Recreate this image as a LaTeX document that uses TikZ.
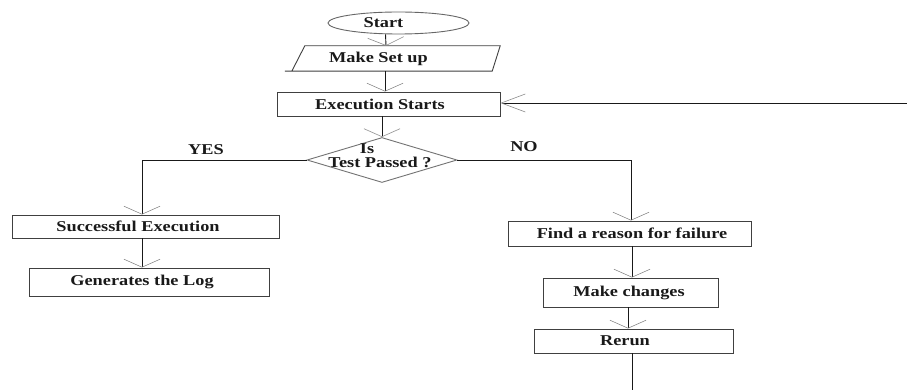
\documentclass[tikz,border=0pt]{standalone}
\usepackage{fontspec}
\setmainfont{Liberation Serif}[FakeStretch=1.22]
\usetikzlibrary{arrows.meta,shapes.geometric,calc}
\begin{document}
\begin{tikzpicture}[x=1pt,y=-1pt,
  box/.style={draw=black!75, line width=0.9pt, inner sep=0pt},
  lbl/.style={font=\bfseries\fontsize{15}{18}\selectfont, text=black!90, inner sep=0pt},
  link/.style={draw=black!90, line width=0.9pt},
  arr/.style={link, -{Straight Barb[length=8pt,width=36pt,color=black!45,line width=0.6pt]}},
  harr/.style={link, -{Straight Barb[length=24pt,width=18pt,color=black!45,line width=0.6pt]}}
]
\useasboundingbox[fill=white] (0,0) rectangle (907,390);

% nodes
\node[box, draw=black!60, ellipse, minimum width=141pt, minimum height=22pt,
      label={[lbl,xshift=-15pt]center:Start}] (start) at (398.5,23) {};
\node[inner sep=0pt, minimum width=215pt, minimum height=25pt,
      label={[lbl,xshift=-14pt]center:Make Set up}] (setup) at (392.5,58.5) {};
\draw[box] ($(setup.south west)$) -- ($(setup.south east)+(-8,0)$)
   -- (setup.north east) -- ($(setup.north west)+(20,0)$) -- ($(setup.south west)+(7,0)$);
\node[box, minimum width=223pt, minimum height=24pt,
      label={[lbl,xshift=-8.5pt]center:Execution Starts}] (exec) at (388.5,104) {};
\node[box, draw=black!55, diamond, minimum width=150pt, minimum height=45pt,
      label={[lbl,xshift=-15pt,yshift=11pt]center:Is},
      label={[lbl,xshift=-2pt,yshift=-2pt]center:Test Passed ?}] (dia) at (382,160) {};
\node[box, minimum width=267pt, minimum height=23pt,
      label={[lbl,xshift=-7.5pt]center:Successful Execution}] (succ) at (145.5,226.5) {};
\node[box, minimum width=240pt, minimum height=28pt,
      label={[lbl,xshift=-7pt]center:Generates the Log}] (gen) at (149,282) {};
\node[box, minimum width=243pt, minimum height=25pt,
      label={[lbl,xshift=2.5pt]center:Find a reason for failure}] (find) at (629.5,233.5) {};
\node[box, minimum width=175pt, minimum height=29pt,
      label={[lbl,xshift=-1.5pt]center:Make changes}] (mc) at (630.5,292.5) {};
\node[box, minimum width=199pt, minimum height=24pt,
      label={[lbl,xshift=-8.5pt]center:Rerun}] (rerun) at (633.5,341) {};
\node[lbl] (yes) at (206,150) {YES};
\node[lbl] (no) at (524,147) {NO};
\coordinate (fb) at (907,103);
\coordinate (end) at (632,390);

% connectors
\draw[arr] ([xshift=-13pt]start.south) -- ([xshift=-6.5pt]setup.north);
\draw[arr] ([xshift=-7.5pt]setup.south) -- ([xshift=-3.5pt]exec.north);
\draw[arr] (exec.south -| dia.north) -- (dia.north);
\draw[arr] (dia.west) -| ([xshift=-3.5pt]succ.north);
\draw[arr] ([xshift=-3.5pt]succ.south) -- ([xshift=-7pt]gen.north);
\draw[arr] (dia.east) -| ([xshift=1.5pt]find.north);
\draw[arr] ([xshift=2.5pt]find.south) -- ([xshift=1.5pt]mc.north);
\draw[arr] ([xshift=-2.5pt]mc.south) -- ([xshift=-5.5pt]rerun.north);
\draw[link] ([xshift=-1.5pt]rerun.south) -- (end);
\draw[harr] (fb) -- (exec.east |- fb);
\end{tikzpicture}
\end{document}
